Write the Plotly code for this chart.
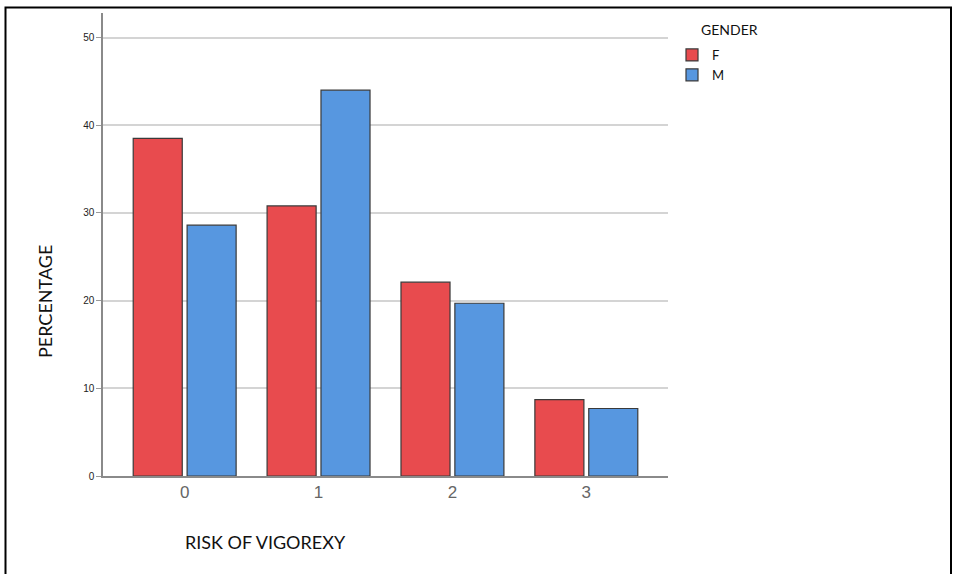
import plotly.graph_objects as go

categories = ["0", "1", "2", "3"]
female = [38.5, 30.8, 22.1, 8.7]
male = [28.6, 44.0, 19.7, 7.7]
y_ticks = [0, 10, 20, 30, 40, 50]

W, H = 955, 574
L, R, T, B = 103, 668, 13, 476
pw, ph = R - L, B - T

fig = go.Figure()
fig.add_trace(go.Bar(x=categories, y=female, name="F",
                     marker=dict(color="#E84B4E", line=dict(color="#3a3a3a", width=1.2))))
fig.add_trace(go.Bar(x=categories, y=male, name="M",
                     marker=dict(color="#5797E0", line=dict(color="#3a3a3a", width=1.2))))

fig.add_shape(type="rect", xref="paper", yref="paper",
              x0=(5.5 - L) / pw, x1=(951 - L) / pw,
              y0=-(600 - B) / ph, y1=1 + (T - 7.5) / ph,
              line=dict(color="black", width=2), layer="below")

title_font = dict(family="Lato, Open Sans, sans-serif", size=18, color="#111")
fig.add_annotation(text="RISK OF VIGOREXY", xref="paper", yref="paper",
                   x=(265 - L) / pw, y=-(542 - B) / ph, xanchor="center", yanchor="middle",
                   showarrow=False, font=title_font)
fig.add_annotation(text="PERCENTAGE", xref="paper", yref="paper",
                   x=(45 - L) / pw, y=(B - 302) / ph, xanchor="center", yanchor="middle",
                   showarrow=False, textangle=-90, font=title_font)
fig.add_annotation(text="GENDER", xref="paper", yref="paper",
                   x=(699 - L) / pw, y=(B - 30) / ph, xanchor="left", yanchor="middle",
                   showarrow=False, font=dict(family="Lato, Open Sans, sans-serif", size=14, color="#111"))

fig.update_layout(
    width=W, height=H,
    margin=dict(l=L, r=W - R, t=T, b=H - B),
    paper_bgcolor="white", plot_bgcolor="white",
    barmode="group", bargap=0.195, bargroupgap=0.09,
    showlegend=True,
    legend=dict(x=(672 - L) / pw, y=1 - (40 - T) / ph, xanchor="left", yanchor="top",
                font=dict(family="Lato, Open Sans, sans-serif", size=13, color="#111"),
                itemwidth=30, tracegroupgap=0, bgcolor="rgba(0,0,0,0)"),
    xaxis=dict(range=[-0.61, 3.61], showline=True, linecolor="#8a8a8a", linewidth=1.5,
               ticks="", showgrid=False,
               tickfont=dict(family="Liberation Sans Narrow, Arial Narrow, sans-serif", size=17, color="#666")),
    yaxis=dict(range=[0, 52.8], tickvals=y_ticks, showline=True, linecolor="#8a8a8a", linewidth=1.5,
               ticks="outside", ticklen=5, tickcolor="#9a9a9a",
               showgrid=True, gridcolor="#d4d4d4", gridwidth=1.5, zeroline=False,
               tickfont=dict(family="Arial, Liberation Sans, sans-serif", size=10, color="#222")),
)

fig.write_html("out.html", config={"displayModeBar": False},
               post_script="document.body.style.margin='0';document.body.style.overflow='hidden';")
